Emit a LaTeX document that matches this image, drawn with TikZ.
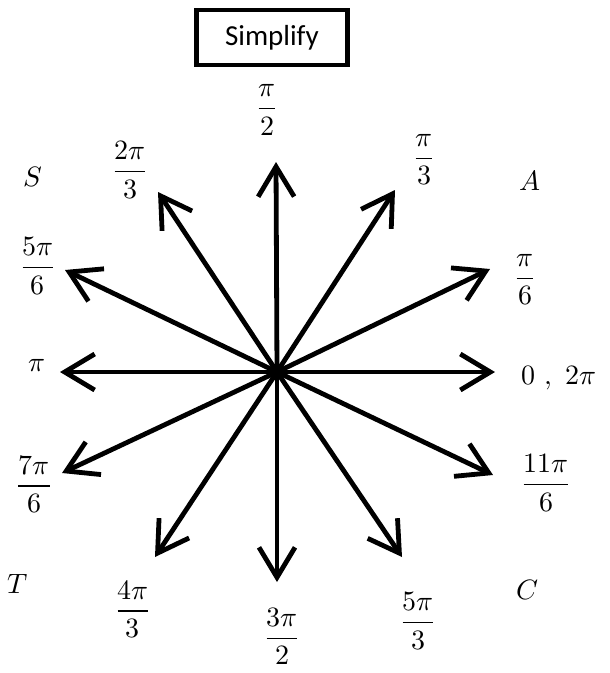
\documentclass[tikz,border=0pt]{standalone}
\usepackage{fontspec}
\usepackage{unicode-math}
\setmathfont{Latin Modern Math}
\newfontfamily\boxfont{Carlito}
\usetikzlibrary{arrows.meta}

\begin{document}
\begin{tikzpicture}[
  x=1pt, y=-1pt,
  every node/.style={font=\fontsize{28}{32}\selectfont, inner sep=0pt},
  ttl/.style={draw, line width=4.5pt, minimum width=151pt, minimum height=55pt,
              font=\boxfont\fontsize{29}{33}\selectfont},
  lbl/.style={anchor=center},
  quad/.style={anchor=center},
  arr/.style={-{Straight Barb[length=30pt, width=36pt]}, line width=4.8pt,
              line cap=round, line join=round}
]
\useasboundingbox (0,0) rectangle (610,673);

\node[ttl] (simp) at (272,37.5) {Simplify};

% centre and arrow tips
\coordinate (o) at (277,372);
\coordinate (t0) at (495,372);
\coordinate (t30) at (490,269);
\coordinate (t60) at (395,190);
\coordinate (t90) at (276,162);
\coordinate (t120) at (158,192);
\coordinate (t150) at (65,270);
\coordinate (t180) at (60,372);
\coordinate (t210) at (62,473);
\coordinate (t240) at (155,557);
\coordinate (t270) at (277,582);
\coordinate (t300) at (402,557);
\coordinate (t330) at (493,475);

\draw[arr] (o) -- (t0);
\draw[arr] (o) -- (t30);
\draw[arr] (o) -- (t60);
\draw[arr] (o) -- (t90);
\draw[arr] (o) -- (t120);
\draw[arr] (o) -- (t150);
\draw[arr] (o) -- (t180);
\draw[arr] (o) -- (t210);
\draw[arr] (o) -- (t240);
\draw[arr] (o) -- (t270);
\draw[arr] (o) -- (t300);
\draw[arr] (o) -- (t330);

% angle labels
\node[lbl] (l0) at (559,378) {$0\ ,\ 2\pi$};
\node[lbl] (l30) at (525,280) {$\displaystyle\frac{\pi}{6}$};
\node[lbl] (l60) at (424,160) {$\displaystyle\frac{\pi}{3}$};
\node[lbl] (l90) at (267,110) {$\displaystyle\frac{\pi}{2}$};
\node[lbl] (l120) at (130,170) {$\displaystyle\frac{2\pi}{3}$};
\node[lbl] (l150) at (38,266) {$\displaystyle\frac{5\pi}{6}$};
\node[lbl] (l180) at (37,366) {$\pi$};
\node[lbl] (l210) at (34,484) {$\displaystyle\frac{7\pi}{6}$};
\node[lbl] (l240) at (133,609) {$\displaystyle\frac{4\pi}{3}$};
\node[lbl] (l270) at (282,636) {$\displaystyle\frac{3\pi}{2}$};
\node[lbl] (l300) at (418,621) {$\displaystyle\frac{5\pi}{3}$};
\node[lbl] (l330) at (546,483) {$\displaystyle\frac{11\pi}{6}$};

% quadrant letters
\node[quad] (qa) at (530,180) {$A$};
\node[quad] (qs) at (33,177) {$S$};
\node[quad] (qt) at (18,584) {$T$};
\node[quad] (qc) at (528,590) {$C$};
\end{tikzpicture}
\end{document}
